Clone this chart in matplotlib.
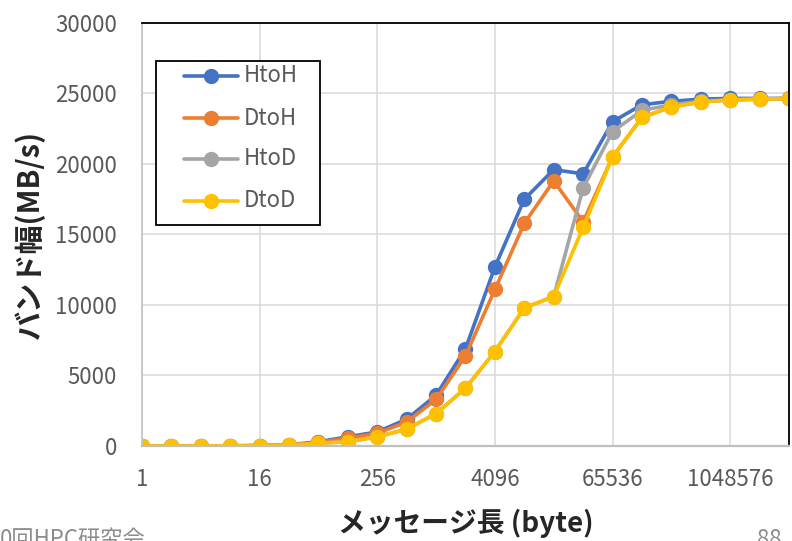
import numpy as np
import matplotlib
matplotlib.use("Agg")
import matplotlib.pyplot as plt
from matplotlib.patches import Rectangle

plt.rcParams['font.family'] = ['Noto Sans CJK JP', 'DejaVu Sans']

# message sizes 1 .. 4 MiB (powers of two)
sizes = [2 ** i for i in range(23)]

# bandwidth (MB/s)
htoh = [0, 0, 0, 10, 30, 80, 300, 650, 1000, 1900, 3600, 6900, 12700, 17500,
        19600, 19300, 23000, 24200, 24450, 24600, 24650, 24650, 24650]
dtoh = [0, 0, 0, 10, 30, 70, 250, 550, 900, 1700, 3300, 6400, 11100, 15800,
        18800, 15900, 20500, 23300, 24050, 24400, 24550, 24600, 24650]
htod = [0, 0, 0, 10, 30, 60, 200, 300, 650, 1200, 2300, 4100, 6700, 9800,
        10600, 18300, 22300, 23800, 24200, 24450, 24550, 24600, 24650]
dtod = [0, 0, 0, 10, 30, 60, 200, 300, 650, 1200, 2300, 4100, 6700, 9800,
        10600, 15500, 20500, 23300, 24050, 24400, 24550, 24600, 24650]

names = ["HtoH", "DtoH", "HtoD", "DtoD"]
colors = ["#4472C4", "#ED7D31", "#A5A5A5", "#FFC000"]
values = [htoh, dtoh, htod, dtod]

xticks = [1, 16, 256, 4096, 65536, 1048576]
yticks = [0, 5000, 10000, 15000, 20000, 25000, 30000]

fig = plt.figure(figsize=(7.92, 5.41), dpi=100)
ax = fig.add_axes([0.1793, 0.1756, 0.9962 - 0.1793, 0.9575 - 0.1756])

for name, vals, col in zip(names, values, colors):
    ax.plot(sizes, vals, color=col, lw=2.6, marker='o', ms=10, label=name,
            solid_capstyle='round', zorder=3)

ax.set_xscale('log', base=2)
ax.set_xlim(1, 2 ** 22)
ax.set_ylim(0, 30000)
ax.set_xticks(xticks)
ax.set_xticklabels([str(t) for t in xticks])
ax.set_yticks(yticks)
ax.set_yticklabels([str(t) for t in yticks])
ax.xaxis.set_minor_locator(matplotlib.ticker.NullLocator())
ax.tick_params(length=0, labelsize=16, labelcolor='#595959')
ax.tick_params(axis='x', pad=16)
ax.tick_params(axis='y', pad=18)

ax.grid(True, color='#d9d9d9', lw=1.1)
ax.set_axisbelow(True)
for side in ('top', 'right'):
    ax.spines[side].set_color('black')
    ax.spines[side].set_linewidth(1.3)
ax.spines['left'].set_color('#bfbfbf')
ax.spines['left'].set_linewidth(1.1)
ax.spines['bottom'].set_color('#bfbfbf')
ax.spines['bottom'].set_linewidth(1.6)
for sp in ax.spines.values():
    sp.set_zorder(4)

ax.set_xlabel('メッセージ長 (byte)', fontsize=20, fontweight='bold',
              color='#262626', labelpad=13)
ax.set_ylabel('バンド幅(MB/s)', fontsize=21, fontweight='bold',
              color='#262626', labelpad=7)

# legend box (drawn by hand to get the padding right)
ax.add_patch(Rectangle((0.0216, 0.5225), 0.2535, 0.3877, transform=ax.transAxes,
                       facecolor='white', edgecolor='black', lw=1.3,
                       zorder=5, clip_on=False))
row_y = [0.8747, 0.7754, 0.6785, 0.5792]
for name, col, yy in zip(names, colors, row_y):
    ax.plot([0.0649, 0.1484], [yy, yy], color=col, lw=2.6,
            solid_capstyle='round', transform=ax.transAxes, zorder=6,
            clip_on=False)
    ax.plot([0.1066], [yy], marker='o', ms=10, color=col,
            transform=ax.transAxes, zorder=6, clip_on=False)
    ax.text(0.1577, yy, name, transform=ax.transAxes, fontsize=16,
            color='#595959', va='center', ha='left', zorder=6)

# slide footer
fig.text(146 / 792, -0.008, '0回HPC研究会', fontsize=16, color='#8c8c8c',
         ha='right', va='baseline')
fig.text(757 / 792, -0.010, '88', fontsize=16, color='#8c8c8c',
         ha='left', va='baseline')

fig.savefig('out.png', dpi=100)
